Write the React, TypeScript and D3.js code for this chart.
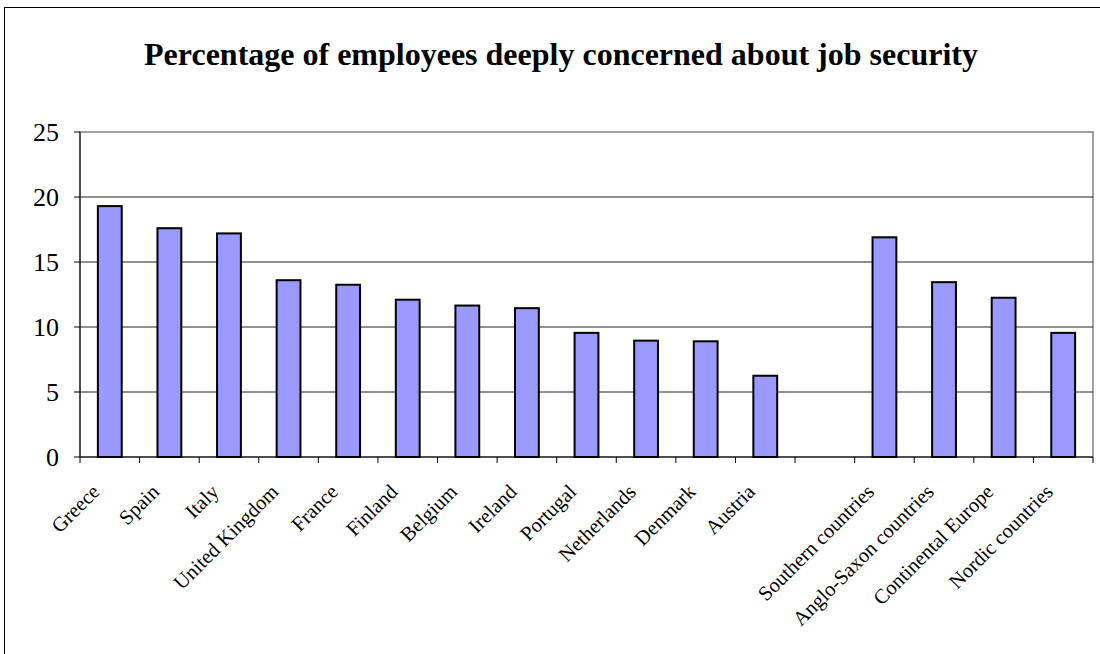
import React from "react";
import * as d3 from "d3";

const categories = [
  "Greece", "Spain", "Italy", "United Kingdom", "France", "Finland", "Belgium",
  "Ireland", "Portugal", "Netherlands", "Denmark", "Austria", "",
  "Southern countries", "Anglo-Saxon countries", "Continental Europe", "Nordic countries",
];
const values: (number | null)[] = [
  19.3, 17.6, 17.2, 13.6, 13.25, 12.1, 11.65, 11.45, 9.55, 8.95, 8.9, 6.25, null,
  16.9, 13.45, 12.25, 9.55,
];
const yTicks = [0, 5, 10, 15, 20, 25];
const title = "Percentage of employees deeply concerned about job security";

export default function App() {
  const W = 1100, H = 654;
  const left = 80, right = 1093, top = 132, bottom = 457;
  const x = d3.scaleBand<number>().domain(categories.map((_, i) => i)).range([left, right]).paddingInner(0.6).paddingOuter(0.3);
  const xs = d3.scaleBand<number>().domain(categories.map((_, i) => i)).range([left, right]);
  const y = d3.scaleLinear().domain([0, 25]).range([bottom, top]);
  const font = "'Liberation Serif', 'Times New Roman', serif";
  return (
    <svg width={W} height={H} style={{ position: "absolute", left: 0, top: 0, background: "#fff" }}>
      <rect x={4.5} y={7.5} width={W + 10} height={H + 10} fill="#fff" stroke="#000" strokeWidth={1} />
      <text x={561} y={65} textAnchor="middle" fontFamily={font} fontWeight="bold" fontSize={32}>{title}</text>
      <rect x={left} y={top} width={right - left} height={bottom - top} fill="none" stroke="#808080" strokeWidth={1.5} />
      {yTicks.filter(t => t > 0 && t < 25).map(t => (
        <line key={t} x1={left} x2={right} y1={y(t)} y2={y(t)} stroke="#222" strokeWidth={1} />
      ))}
      {values.map((v, i) => v == null ? null : (
        <rect key={i} x={x(i)} y={y(v)} width={x.bandwidth()} height={y(0) - y(v)} fill="#9999FF" stroke="#000" strokeWidth={2} />
      ))}
      <line x1={left} x2={left} y1={top} y2={bottom} stroke="#000" strokeWidth={1} />
      <line x1={left} x2={right} y1={bottom} y2={bottom} stroke="#000" strokeWidth={1} />
      {yTicks.map(t => (
        <g key={t}>
          <line x1={left - 6} x2={left} y1={y(t)} y2={y(t)} stroke="#000" />
          <text x={left - 21} y={y(t) + 9} textAnchor="end" fontFamily={font} fontSize={26}>{t}</text>
        </g>
      ))}
      {categories.map((_, i) => (
        <line key={i} x1={xs(i)!} x2={xs(i)!} y1={bottom} y2={bottom + 6} stroke="#000" />
      ))}
      <line x1={right} x2={right} y1={bottom} y2={bottom + 6} stroke="#000" />
      {categories.map((c, i) => {
        const cx = xs(i)! + xs.bandwidth() / 2;
        return c ? (
          <text key={i} transform={`translate(${cx - 9},${bottom + 36}) rotate(-45)`} textAnchor="end" fontFamily={font} fontSize={20.5}>{c}</text>
        ) : null;
      })}
    </svg>
  );
}
